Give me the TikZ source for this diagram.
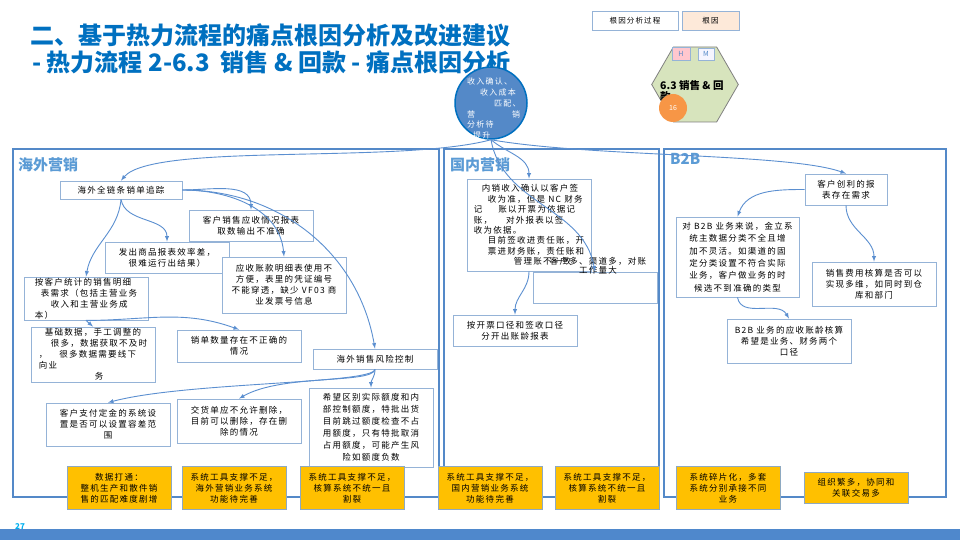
\documentclass[tikz,border=0pt]{standalone}
\usepackage{fontspec}
\setmainfont{Noto Sans CJK SC}
\newfontfamily\boxfont[LetterSpace=15]{Noto Sans CJK SC}
\usetikzlibrary{shapes.geometric}

\definecolor{titleblue}{RGB}{0,112,192}
\definecolor{panelblue}{RGB}{84,137,200}
\definecolor{headblue}{RGB}{91,155,213}
\definecolor{boxline}{RGB}{149,179,215}
\definecolor{flowblue}{RGB}{91,143,208}
\definecolor{causefill}{RGB}{255,192,0}
\definecolor{causeline}{RGB}{142,169,193}
\definecolor{hexgreen}{RGB}{215,228,189}
\definecolor{peach}{RGB}{253,233,217}
\definecolor{tagpink}{RGB}{255,199,206}
\definecolor{dotorange}{RGB}{247,150,70}
\definecolor{barblue}{RGB}{79,136,204}
\definecolor{pagecyan}{RGB}{0,176,240}

\tikzset{
  issue/.style={draw=boxline, line width=0.8pt, fill=white, inner sep=1pt,
    align=center, font=\boxfont\fontsize{8.5}{11}\selectfont},
  cause/.style={issue, draw=causeline, fill=causefill},
  panel/.style={draw=panelblue, line width=1.2pt},
  paneltitle/.style={text=headblue, anchor=west, inner sep=0,
    font=\bfseries\fontsize{15}{15}\selectfont},
  flow/.style={draw=flowblue, line width=0.9pt, -latex}
}

\begin{document}
\begin{tikzpicture}[x=1pt,y=-1pt]
  \useasboundingbox (0,0) rectangle (960,540);
  \fill[white] (0,0) rectangle (960,540);

  \node[text=titleblue, anchor=west, inner sep=0, font=\bfseries\fontsize{24}{24}\selectfont] (title) at (30,35) {二、基于热力流程的痛点根因分析及改进建议};
  \node[text=titleblue, anchor=west, inner sep=0, font=\bfseries\fontsize{24}{24}\selectfont] (subtitle) at (32,62) {- 热力流程 2-6.3\ \ 销售 \& 回款 - 痛点根因分析};

  \node[issue, font=\boxfont\fontsize{7.5}{9}\selectfont, minimum width=86, minimum height=19] (keyproc) at (635,20.5) {根因分析过程};
  \node[issue, fill=peach, font=\boxfont\fontsize{7.5}{9}\selectfont, minimum width=57, minimum height=19] (keyroot) at (710.5,20.5) {根因};

  \node[regular polygon, regular polygon sides=6, minimum size=86.6, inner sep=0, draw=gray, line width=0.8pt, fill=hexgreen] (proc) at (695,84.5) {};
  \node[draw=boxline, fill=tagpink, minimum width=18, minimum height=13, inner sep=0, text=panelblue, font=\fontsize{7}{7}\selectfont] (tagh) at (681,53.5) {H};
  \node[draw=boxline, fill=blue!4, minimum width=16, minimum height=12, inner sep=0, text=panelblue, font=\fontsize{7}{7}\selectfont] (tagm) at (706,54) {M};
  \node[anchor=north west, align=left, inner sep=0, font=\bfseries\fontsize{10.5}{11}\selectfont] (procname) at (660,80) {6.3 销售 \& 回\\款};
  \node[circle, fill=dotorange, minimum size=28, inner sep=0, text=white, font=\fontsize{7}{7}\selectfont] (count) at (673,108) {16};

  \node[circle, fill=panelblue, draw=titleblue, line width=1.5pt, minimum size=72, inner sep=0] (circ) at (491,103) {};
  \node[anchor=north west, align=left, inner sep=0, text=white, font=\boxfont\fontsize{8}{10.7}\selectfont] (circtext) at (467,78) {收入确认、\\\hspace*{13pt}收入成本\\\hspace*{27pt}匹配、\\营\hspace*{37pt}销\\分析待\\\hspace*{6pt}提升};

  \draw[panel] (13,149) rectangle (439,497);
  \draw[panel] (444,149) rectangle (659,497);
  \draw[panel] (664,149) rectangle (946,497);
  \node[paneltitle] (overseas) at (18,165) {海外营销};
  \node[paneltitle] (domestic) at (450,165) {国内营销};
  \node[paneltitle] (btob) at (670,159) {B2B};

  \node[issue, minimum width=122, minimum height=18] (track) at (121,190) {海外全链条销单追踪};
  \node[issue, minimum width=124, minimum height=31] (salesrpt) at (251,225.5) {客户销售应收情况报表\\取数输出不准确};
  \node[issue, minimum width=124, minimum height=31] (shipped) at (167,257.5) {发出商品报表效率差，\\很难运行出结果）};
  \node[issue, minimum width=124, minimum height=56] (arlist) at (284,285) {应收账款明细表使用不\\方便，表里的凭证编号\\不能穿透，缺少 VF03 商\\业发票号信息};
  \node[issue, align=left, minimum width=124, minimum height=43] (custdet) at (86,298.5) {按客户统计的销售明细\\\hspace*{6pt}表需求（包括主营业务\\\hspace*{16pt}收入和主营业务成\\本）};
  \node[issue, align=left, minimum width=124, minimum height=55] (basedata) at (93,354.5) {\hspace*{6pt}基础数据，手工调整的\\\hspace*{12pt}很多，数据获取不及时\\，\hspace*{12pt}很多数据需要线下\\向业\\\hspace*{56pt}务};
  \node[issue, minimum width=124, minimum height=32] (qty) at (239,346) {销单数量存在不正确的\\情况};
  \node[issue, minimum width=124, minimum height=20] (risk) at (375,359) {海外销售风险控制};
  \node[issue, minimum width=124, minimum height=43] (deposit) at (108,424.5) {客户支付定金的系统设\\置是否可以设置容差范\\围};
  \node[issue, minimum width=124, minimum height=44] (delivery) at (239,421) {交货单应不允许删除，\\目前可以删除，存在删\\除的情况};
  \node[issue, font=\boxfont\fontsize{8.5}{12}\selectfont, minimum width=124, minimum height=79] (credit) at (371,427.5) {希望区别实际额度和内\\部控制额度，特批出货\\目前跳过额度检查不占\\用额度，只有特批取消\\占用额度，可能产生风\\险如额度负数};

  \node[issue, align=left, font=\boxfont\fontsize{8.5}{10.4}\selectfont, minimum width=124, minimum height=92] (revenue) at (529,225) {\hspace*{8pt}内销收入确认以客户签\\\hspace*{14pt}收为准，但是 NC 财务\\记\hspace*{16pt}账以开票为依据记\\账，\hspace*{14pt}对外报表以签\\收为依据。\\\hspace*{14pt}目前签收进责任账，开\\\hspace*{14pt}票进财务账，责任账和\\\hspace*{40pt}管理账不一致};
  \node[issue, fill=none, minimum width=124, minimum height=31] (recon) at (595,287.5) {};
  \node[issue, draw=none, fill=none, font=\boxfont\fontsize{8.5}{9}\selectfont] (recontext) at (598,266) {客户多、渠道多，对账\\工作量大};
  \node[issue, minimum width=124, minimum height=31] (aging) at (515,330.5) {按开票口径和签收口径\\分开出账龄报表};

  \node[issue, minimum width=82, minimum height=31] (profit) at (846,189.5) {客户创利的报\\表存在需求};
  \node[issue, font=\boxfont\fontsize{8.5}{12.3}\selectfont, minimum width=123, minimum height=80] (masterdata) at (737.5,257) {对 B2B 业务来说，金立系\\统主数据分类不全且增\\加不灵活。如渠道的固\\定分类设置不符合实际\\业务，客户做业务的时\\候选不到准确的类型};
  \node[issue, minimum width=124, minimum height=44] (expense) at (874,284) {销售费用核算是否可以\\实现多维，如同时到仓\\库和部门};
  \node[issue, minimum width=124, minimum height=44] (btobaging) at (789,341) {B2B 业务的应收账龄核算\\希望是业务、财务两个\\口径};

  \node[cause, minimum width=104, minimum height=43] (datalink) at (119,488) {数据打通：\\整机生产和散件销\\售的匹配难度剧增};
  \node[cause, minimum width=104, minimum height=43] (toolsea) at (234,488) {系统工具支撑不足，\\海外营销业务系统\\功能待完善};
  \node[cause, minimum width=104, minimum height=43] (acctsea) at (352,488) {系统工具支撑不足，\\核算系统不统一且\\割裂};
  \node[cause, minimum width=104, minimum height=43] (toolhome) at (490,488) {系统工具支撑不足，\\国内营销业务系统\\功能待完善};
  \node[cause, minimum width=104, minimum height=43] (accthome) at (607,488) {系统工具支撑不足，\\核算系统不统一且\\割裂};
  \node[cause, minimum width=104, minimum height=43] (scatter) at (728,488) {系统碎片化，多套\\系统分别承接不同\\业务};
  \node[cause, minimum width=104, minimum height=31] (orgs) at (856,487.5) {组织繁多，协同和\\关联交易多};

  \draw[flow] (circ.south) to[out=195,in=50,out distance=95,in distance=50] (track.north);
  \draw[flow] (circ.south) to[out=-10,in=160,out distance=100,in distance=60] (profit.north);
  \draw[flow] (circ.south) to[out=-40,in=90] (revenue.north);
  \draw[flow] (circ.south) to[out=-80,in=100] (recon.north);

  \draw[flow] (track.east) to[out=0,in=90] (salesrpt.north);
  \draw[flow] (track.east) to[out=0,in=95] (arlist.north);
  \draw[flow] (track.east) to[out=0,in=100] (risk.north);
  \draw[flow] (track.south) to[out=-80,in=90] (shipped.north);
  \draw[flow] (track.south) to[out=-95,in=80] (custdet.north);
  \draw[flow] (custdet.south) to[out=0,in=160] (qty.north);
  \draw[flow] (custdet.south) -- (basedata.north);
  \draw[flow] (risk.south) to[out=-100,in=15,out distance=15,in distance=80] (deposit.north);
  \draw[flow] (risk.south) to[out=-100,in=30,out distance=15,in distance=50] (delivery.north);
  \draw[flow] (risk.south) to[out=-90,in=90] (credit.north);

  \draw[flow] (revenue.south) to[out=-90,in=90] (aging.north);
  \draw[flow] (profit.west) to[out=180,in=70] (masterdata.north);
  \draw[flow] (profit.south) to[out=-90,in=90] (expense.north);
  \draw[flow] (masterdata.south) to[out=-80,in=120] (btobaging.north);

  \fill[barblue] (0,529) rectangle (960,540);
  \node[anchor=west, inner sep=0, text=pagecyan, font=\bfseries\fontsize{8}{8}\selectfont] (page) at (15,527) {27};
\end{tikzpicture}
\end{document}
